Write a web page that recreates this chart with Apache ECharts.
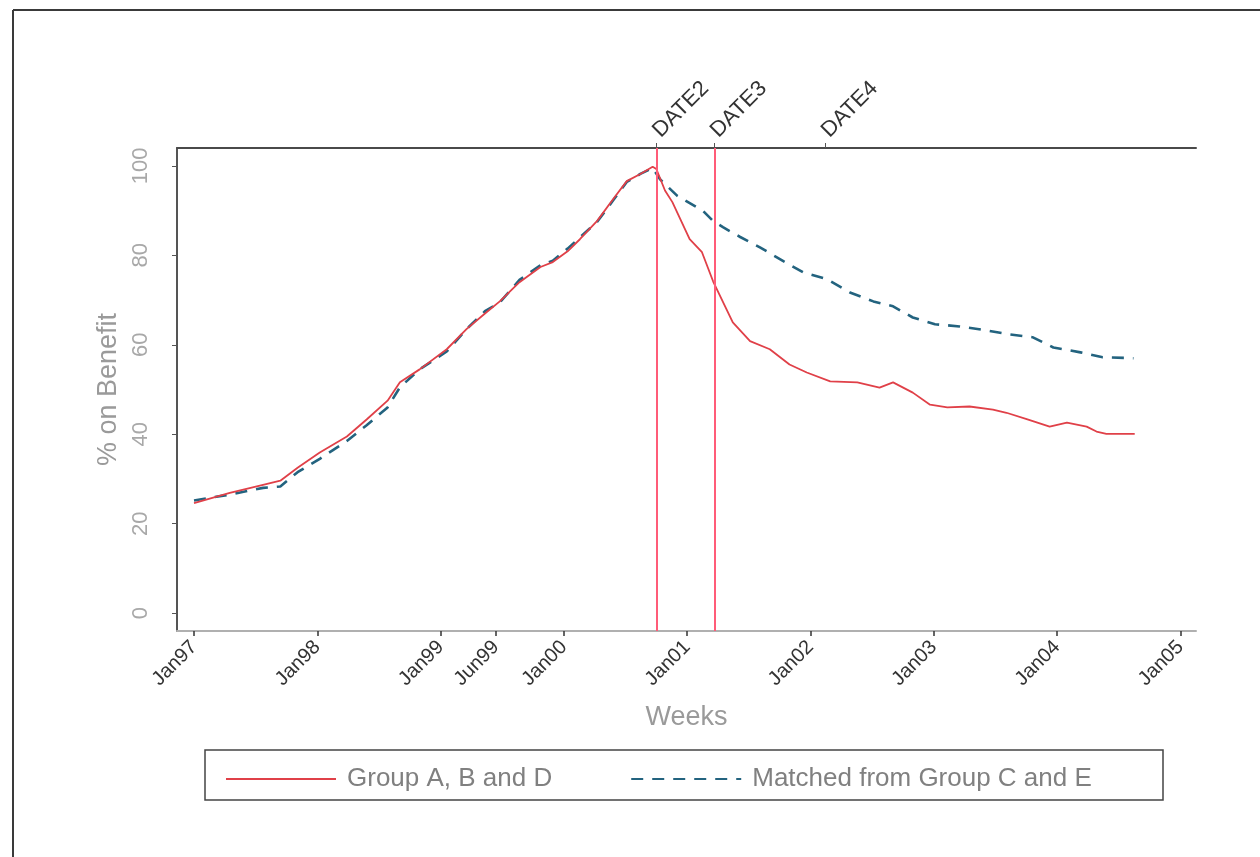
<!DOCTYPE html>
<html>
<head>
<meta charset="utf-8">
<script src="https://cdn.jsdelivr.net/npm/echarts@6/dist/echarts.min.js"></script>
<style>
html,body{margin:0;padding:0;background:#fff;}
#chart{width:1260px;height:857px;}
</style>
</head>
<body>
<div id="chart"></div>
<script>
// Decimal-year positions and values
const groupABD = [
  [1997.00,24.6],[1997.29,26.9],[1997.56,28.7],[1997.70,29.6],[1997.84,32.5],[1998.02,35.9],
  [1998.24,39.5],[1998.40,43.3],[1998.57,47.5],[1998.67,51.6],[1998.83,54.5],[1999.05,59.0],
  [1999.21,63.5],[1999.36,67.0],[1999.48,69.7],[1999.64,74.0],[1999.81,77.4],[1999.91,78.5],
  [2000.03,80.9],[2000.13,83.6],[2000.27,87.7],[2000.40,92.6],[2000.51,96.6],[2000.62,98.2],
  [2000.72,99.8],[2000.75,99.3],[2000.82,94.5],[2000.88,91.9],[2001.02,83.6],[2001.12,80.7],
  [2001.21,74.2],[2001.37,65.0],[2001.51,60.8],[2001.67,59.0],[2001.83,55.6],[2001.97,53.8],
  [2002.16,51.8],[2002.38,51.6],[2002.56,50.4],[2002.67,51.6],[2002.83,49.3],[2002.97,46.6],
  [2003.11,46.0],[2003.29,46.2],[2003.48,45.5],[2003.59,44.8],[2003.76,43.3],[2003.94,41.7],
  [2004.08,42.6],[2004.24,41.7],[2004.32,40.6],[2004.40,40.1],[2004.63,40.1]
];
const matchedCE = [
  [1997.00,25.2],[1997.29,26.5],[1997.56,28.0],[1997.70,28.3],[1997.84,31.5],[1998.02,34.5],
  [1998.24,38.5],[1998.40,42.0],[1998.57,46.0],[1998.67,50.5],[1998.83,54.5],[1999.05,58.5],
  [1999.21,63.5],[1999.36,67.5],[1999.48,69.5],[1999.64,74.5],[1999.81,77.8],[1999.91,78.8],
  [2000.03,81.5],[2000.13,84.0],[2000.27,87.5],[2000.40,92.3],[2000.51,96.4],[2000.62,98.2],
  [2000.72,99.5],[2000.78,97.0],[2000.92,93.3],[2001.13,89.9],[2001.21,87.7],[2001.29,86.3],
  [2001.43,84.1],[2001.59,81.8],[2001.78,78.7],[2001.94,76.2],[2002.13,74.7],[2002.32,71.7],
  [2002.51,69.7],[2002.67,68.6],[2002.83,66.1],[2003.01,64.6],[2003.21,64.1],[2003.43,63.2],
  [2003.62,62.3],[2003.80,61.7],[2003.97,59.4],[2004.19,58.3],[2004.37,57.2],[2004.62,57.0]
];
const xTickValues = [1997,1998,1999,1999.45,2000,2001,2002,2003,2004,2005];
const xTickLabels = ['Jan97','Jan98','Jan99','Jun99','Jan00','Jan01','Jan02','Jan03','Jan04','Jan05'];
const topTickValues = [2000.75,2001.22,2002.12];
const topTickLabels = ['DATE2','DATE3','DATE4'];
const redLineDates = [2000.75,2001.22];
const yTickValues = [0,20,40,60,80,100];
const seriesNames = ['Group A, B and D','Matched from Group C and E'];

const FONT = 'Liberation Sans, Arial, sans-serif';
const chart = echarts.init(document.getElementById('chart'), null, {renderer:'canvas'});

function lookup(vals, labels, v){
  for (let i=0;i<vals.length;i++){ if (Math.abs(vals[i]-v)<1e-6) return labels[i]; }
  return '';
}

const option = {
  backgroundColor:'#fff',
  animation:false,
  grid:{left:177, right:64, top:148, bottom:226},
  graphic:[
    {type:'line', shape:{x1:13,y1:10,x2:1260,y2:10}, style:{stroke:'#3a3a3a',lineWidth:2}},
    {type:'line', shape:{x1:13,y1:10,x2:13,y2:857}, style:{stroke:'#3a3a3a',lineWidth:2}},
    {type:'rect', shape:{x:205,y:750,width:958,height:50}, style:{fill:'none',stroke:'#444',lineWidth:1.5}}
  ],
  legend:{
    left:220, top:761, itemWidth:110, itemHeight:14, itemGap:78,
    itemStyle:{opacity:0},
    textStyle:{fontFamily:FONT, fontSize:26, color:'#808080', padding:[0,0,0,6]},
    data:seriesNames
  },
  xAxis:[
    {
      type:'value', position:'bottom', min:1996.862, max:2005.127,
      name:'Weeks', nameLocation:'middle', nameGap:73,
      nameTextStyle:{fontFamily:FONT, fontSize:27, color:'#9a9a9a'},
      axisLine:{show:true, onZero:false, lineStyle:{color:'#b0b0b0', width:2}},
      axisTick:{show:true, length:5, lineStyle:{color:'#333', width:1.5}, customValues:xTickValues},
      axisLabel:{show:true, rotate:45, margin:13, fontFamily:FONT, fontSize:20, color:'#333',
        customValues:xTickValues, formatter:v=>lookup(xTickValues,xTickLabels,v)},
      splitLine:{show:false}
    },
    {
      type:'value', position:'top', min:1996.862, max:2005.127,
      axisLine:{show:true, onZero:false, lineStyle:{color:'#4a4a4a', width:2}},
      axisTick:{show:true, length:5, lineStyle:{color:'#555', width:1}, customValues:topTickValues},
      axisLabel:{show:true, rotate:-45, margin:14, fontFamily:FONT, fontSize:22, color:'#333',
        customValues:topTickValues, formatter:v=>lookup(topTickValues,topTickLabels,v)},
      splitLine:{show:false}
    }
  ],
  yAxis:{
    type:'value', min:-4, max:104,
    name:'% on Benefit', nameLocation:'middle', nameGap:50,
    nameTextStyle:{fontFamily:FONT, fontSize:27, color:'#9a9a9a'},
    axisLine:{show:true, onZero:false, lineStyle:{color:'#555', width:2}},
    axisTick:{show:true, length:5, lineStyle:{color:'#555', width:1}, customValues:yTickValues},
    axisLabel:{show:true, rotate:90, margin:25, fontFamily:FONT, fontSize:22, color:'#a8a8a8',
      customValues:yTickValues},
    splitLine:{show:false}
  },
  series:[
    {
      name:seriesNames[0], type:'line', data:groupABD, xAxisIndex:0,
      symbol:'none', smooth:false,
      lineStyle:{color:'#e04048', width:1.8},
      itemStyle:{color:'#e04048'},
      markLine:{
        silent:true, symbol:'none', label:{show:false},
        lineStyle:{color:'#ff5c78', width:2, type:'solid'},
        data:redLineDates.map(d=>({xAxis:d}))
      },
      z:3
    },
    {
      name:seriesNames[1], type:'line', data:matchedCE, xAxisIndex:0,
      symbol:'none', smooth:false,
      lineStyle:{color:'#23637f', width:2.6, type:[12,9]},
      itemStyle:{color:'#23637f'},
      z:2
    }
  ]
};
chart.setOption(option);
</script>
</body>
</html>
